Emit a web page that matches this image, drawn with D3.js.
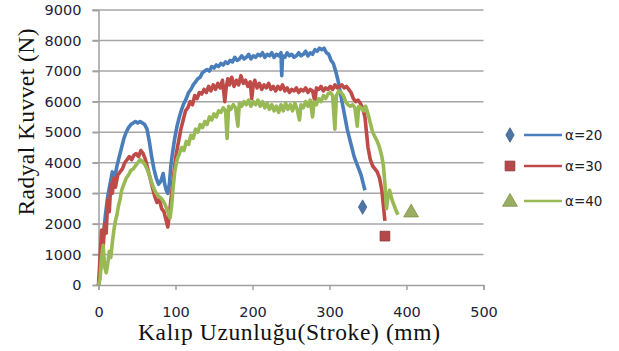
<!DOCTYPE html>
<html><head><meta charset="utf-8">
<script src="https://cdn.jsdelivr.net/npm/d3@7"></script>
<style>body{margin:0;background:#fff}svg{display:block}</style>
</head><body>
<svg id="c" width="619" height="351"></svg>
<script>
const xTicks = [0,100,200,300,400,500];
const yTicks = [0,1000,2000,3000,4000,5000,6000,7000,8000,9000];
const seriesNames = ["α=20","α=30","α=40"];
const a20 = [[0,0],[3,600],[6,1500],[9,2300],[12,2900],[15,3300],[18,3700],[21,3500],[24,3900],[27,4200],[30,4500],[33,4800],[36,5000],[39,5150],[42,5250],[45,5300],[48,5350],[51,5300],[54,5350],[57,5300],[60,5250],[63,5100],[66,4700],[69,4200],[72,3800],[75,3500],[78,3300],[81,3400],[84,3650],[86,3300],[88,3100],[90,3000],[92,3300],[94,3900],[96,4300],[99,4800],[102,5200],[105,5500],[108,5750],[111,5950],[114,6100],[117,6300],[120,6400],[123,6550],[126,6650],[129,6750],[132,6800],[135,6950],[138,7000],[141,7050],[144,7000],[147,7150],[150,7100],[153,7200],[156,7150],[159,7250],[162,7200],[165,7300],[168,7250],[171,7350],[174,7300],[177,7450],[180,7350],[183,7400],[186,7500],[189,7400],[192,7450],[195,7550],[198,7400],[201,7500],[204,7450],[207,7550],[210,7500],[213,7600],[216,7450],[219,7550],[222,7500],[225,7600],[228,7450],[231,7550],[234,7500],[237,7600],[238,6850],[239,7500],[242,7450],[245,7600],[248,7500],[251,7550],[254,7450],[257,7500],[260,7600],[263,7500],[266,7550],[269,7650],[272,7500],[275,7600],[278,7550],[281,7700],[284,7650],[287,7750],[290,7700],[293,7750],[296,7600],[299,7550],[302,7350],[305,7250],[308,7000],[311,6700],[314,6300],[317,5900],[320,5500],[323,5100],[326,4800],[329,4500],[332,4200],[335,4000],[338,3800],[341,3600],[344,3300],[346,3100]];
const a30 = [[0,0],[2,900],[4,1800],[6,1200],[8,2000],[10,1700],[12,2800],[14,2400],[16,3300],[18,3000],[20,3500],[22,3200],[25,3600],[28,3700],[31,3800],[34,4000],[37,4100],[40,4200],[43,4100],[46,4250],[49,4300],[52,4200],[55,4400],[58,4300],[61,4100],[64,3800],[67,3500],[70,3200],[73,2900],[76,2700],[79,2800],[82,2500],[85,2400],[88,2100],[90,1900],[92,2300],[95,3000],[98,3700],[101,4300],[104,4700],[107,5100],[110,5400],[113,5700],[116,5800],[119,6000],[122,5900],[125,6200],[128,6100],[131,6300],[134,6250],[137,6400],[140,6300],[143,6500],[146,6350],[149,6550],[152,6400],[155,6600],[158,6450],[161,6700],[164,6000],[166,6500],[168,6750],[170,6550],[173,6800],[176,6500],[179,6700],[182,6550],[185,6850],[188,6600],[191,6700],[194,6500],[197,6650],[199,6100],[201,6550],[203,6700],[206,6450],[209,6600],[212,6400],[215,6550],[218,6450],[221,6600],[224,6400],[227,6500],[230,6350],[233,6500],[236,6400],[239,6550],[242,6350],[245,6450],[248,6300],[251,6400],[254,6350],[257,6450],[260,6300],[263,6400],[266,6350],[269,6450],[272,6300],[275,6400],[278,6350],[281,6000],[283,6450],[286,6400],[289,6500],[292,6350],[295,6450],[298,6400],[301,6500],[304,6400],[307,6550],[310,6450],[313,6500],[316,6550],[319,6450],[322,6500],[325,6400],[328,6300],[331,6100],[334,6000],[337,6050],[340,5950],[343,5800],[346,5500],[348,5000],[350,4500],[353,4100],[356,3900],[359,3800],[362,3700],[365,3500],[368,3100],[370,2600],[372,2100]];
const a40 = [[0,0],[2,200],[4,900],[6,1300],[8,600],[10,400],[12,700],[14,1100],[16,900],[18,1400],[20,1800],[22,2100],[24,2300],[26,2600],[28,2800],[30,3100],[33,3300],[36,3500],[39,3600],[42,3750],[45,3800],[48,3900],[51,4000],[54,4100],[57,4050],[60,3950],[63,3800],[66,3600],[69,3350],[72,3150],[75,3000],[78,2900],[81,2850],[84,2750],[87,2600],[90,2400],[93,2200],[95,2600],[97,3200],[99,3700],[102,4100],[105,4300],[108,4500],[111,4400],[114,4700],[117,4600],[120,4900],[123,4800],[126,5100],[129,5000],[132,5250],[135,5150],[138,5350],[141,5250],[144,5500],[147,5400],[150,5600],[153,5500],[156,5700],[159,5650],[162,5800],[165,5700],[167,4800],[169,5850],[172,5750],[175,5900],[178,5800],[181,5200],[183,5950],[186,5850],[189,6000],[192,5900],[195,6050],[198,5850],[201,6000],[204,5900],[207,6050],[210,5850],[213,6000],[216,5800],[219,5950],[222,5750],[225,5900],[228,5700],[231,5850],[234,5650],[237,5900],[240,5700],[243,5950],[246,5750],[249,5900],[252,5700],[255,5950],[258,5750],[261,5400],[263,5900],[266,5800],[269,6000],[272,5850],[275,6050],[278,5500],[280,6000],[283,5900],[286,6100],[289,6000],[292,6200],[295,6100],[298,6250],[301,6300],[304,6200],[307,5100],[309,6200],[312,6350],[315,6300],[318,6200],[321,6000],[324,5900],[327,5850],[330,5900],[333,5800],[336,5200],[338,5850],[341,5800],[344,5700],[347,5850],[350,5600],[353,5300],[356,5000],[359,4850],[362,4700],[365,4500],[368,4200],[370,3900],[372,3300],[374,2500],[376,2900],[378,3100],[381,2800],[384,2600],[387,2400],[389,2300]];
const endMarkers = [[343,2550],[372,1600],[406,2400]];

const colors = ["#4a7ebb","#be4b48","#98b954"];
const markerFill = ["#4f74a6","#b5484a","#9aae62"];
const svg = d3.select("#c");
const x = d3.scaleLinear().domain([0,500]).range([98.5,483.5]);
const y = d3.scaleLinear().domain([0,9000]).range([285,10]);
const tickColor = "#22223a";
const tickFont = "DejaVu Sans, Verdana, sans-serif";

// gridlines
svg.append("g").selectAll("line").data(yTicks.filter(d=>d>0)).join("line")
  .attr("x1",x(0)-6).attr("x2",x(500)).attr("y1",d=>y(d)).attr("y2",d=>y(d))
  .attr("stroke","#a6a6a6").attr("stroke-width",1.5);

// y axis
const yAxis = d3.axisLeft(y).tickValues(yTicks).tickSize(6).tickPadding(11).tickFormat(d3.format("d"));
const gy = svg.append("g").attr("transform",`translate(${x(0)},0)`).call(yAxis);
gy.select(".domain").attr("stroke","#a0a0a0").attr("stroke-width",1.5);
gy.selectAll(".tick line").attr("stroke","#a0a0a0").attr("stroke-width",1.5);
gy.selectAll("text").attr("fill",tickColor).style("font-family",tickFont).style("font-size","14.5px");

// x axis
const xAxis = d3.axisBottom(x).tickValues(xTicks).tickSize(5).tickPadding(17).tickFormat(d3.format("d"));
const gx = svg.append("g").attr("transform",`translate(0,${y(0)})`).call(xAxis);
gx.select(".domain").attr("stroke","#a0a0a0").attr("stroke-width",1.5);
gx.selectAll(".tick line").attr("stroke","#a0a0a0").attr("stroke-width",1.5);
gx.selectAll("text").attr("fill",tickColor).style("font-family",tickFont).style("font-size","14.5px");

// lines
const line = d3.line().x(d=>x(d[0])).y(d=>y(d[1]));
[a20,a30,a40].forEach((s,i)=>{
  svg.append("path").datum(s).attr("d",line).attr("fill","none")
    .attr("stroke",colors[i]).attr("stroke-width",3.6).attr("stroke-linejoin","round");
});

function marker(g,i,cx,cy){
  if(i===0){
    g.append("path").attr("d",d3.symbol(d3.symbolDiamond,60)())
     .attr("transform",`translate(${cx},${cy})`).attr("fill",markerFill[0]).attr("stroke","#3c5f8f").attr("stroke-width",0.8);
  } else if(i===1){
    g.append("path").attr("d",d3.symbol(d3.symbolSquare,95)())
     .attr("transform",`translate(${cx},${cy})`).attr("fill",markerFill[1]).attr("stroke","#8c3836").attr("stroke-width",0.8);
  } else {
    g.append("path").attr("d",d3.symbol(d3.symbolTriangle,95)())
     .attr("transform",`translate(${cx},${cy+1})`).attr("fill",markerFill[2]).attr("stroke","#7e9148").attr("stroke-width",0.8);
  }
}
const gm = svg.append("g");
endMarkers.forEach((d,i)=>marker(gm,i,x(d[0]),y(d[1])));

// legend
const lg = svg.append("g");
const legY = [135,166,201];
seriesNames.forEach((n,i)=>{
  marker(lg,i,510,legY[i]);
  lg.append("line").attr("x1",524).attr("x2",562).attr("y1",legY[i]).attr("y2",legY[i])
    .attr("stroke",colors[i]).attr("stroke-width",2.5);
  lg.append("text").attr("x",565).attr("y",legY[i]+5).text(n)
    .attr("fill","#222").style("font-family",tickFont).style("font-size","13.5px");
});

// titles
svg.append("text").attr("x",289).attr("y",340).attr("text-anchor","middle")
  .attr("textLength",302).attr("lengthAdjust","spacing")
  .text("Kalıp Uzunluğu(Stroke) (mm)").attr("fill","#111")
  .style("font-family","Liberation Serif, Times New Roman, serif").style("font-size","23.5px");
svg.append("text").attr("transform","translate(34,122) rotate(-90)").attr("text-anchor","middle")
  .attr("textLength",187).attr("lengthAdjust","spacing")
  .text("Radyal Kuvvet (N)").attr("fill","#111")
  .style("font-family","Liberation Serif, Times New Roman, serif").style("font-size","23.5px");
</script>
</body></html>
